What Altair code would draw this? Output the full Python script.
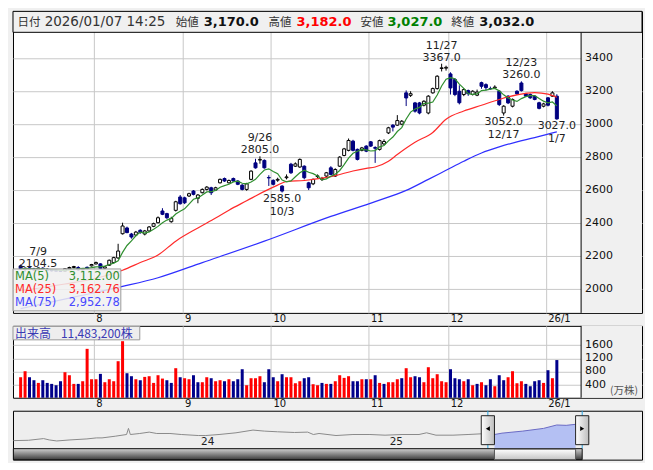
import altair as alt
import pandas as pd

# ---------------- data ----------------
opens = [
    2140, 2118, 2128, 2122, 2116, 2126, 2120, 2114, 2112, 2110,
    2108, 2122, 2130, 2130, 2116, 2131, 2140, 2152, 2152, 2126,
    2144, 2160, 2188, 2335, 2370, 2333, 2327, 2356, 2333, 2352,
    2380, 2402, 2473, 2457, 2408, 2477, 2558, 2553, 2564, 2594,
    2550, 2584, 2604, 2614, 2600, 2644, 2670, 2644, 2670, 2655,
    2630, 2604, 2665, 2765, 2782, 2780, 2676, 2659, 2660, 2624,
    2675, 2757, 2745, 2740, 2745, 2644, 2638, 2682, 2665, 2685,
    2735, 2685, 2745, 2810, 2841, 2897, 2847, 2841, 2867, 2893,
    2858, 2847, 2880, 2947, 2994, 2994, 3000, 3190, 3175, 3129,
    3129, 3115, 3068, 3190, 3216, 3338, 3340, 3305, 3271, 3200,
    3180, 3204, 3180, 3176, 3252, 3240, 3216, 3220, 3200, 3068,
    3170, 3109, 3200, 3250, 3184, 3180, 3170, 3130, 3109, 3160,
    3170, 3170]
highs = [
    2148, 2130, 2136, 2128, 2130, 2132, 2126, 2120, 2118, 2114,
    2125, 2135, 2140, 2138, 2126, 2136, 2152, 2166, 2156, 2140,
    2178, 2195, 2274, 2402, 2378, 2340, 2352, 2362, 2358, 2382,
    2402, 2440, 2490, 2462, 2438, 2535, 2570, 2560, 2584, 2600,
    2576, 2610, 2624, 2620, 2620, 2670, 2676, 2664, 2676, 2660,
    2636, 2644, 2720, 2790, 2805, 2786, 2690, 2665, 2675, 2630,
    2695, 2765, 2768, 2792, 2750, 2650, 2670, 2695, 2680, 2710,
    2745, 2732, 2806, 2856, 2913, 2905, 2852, 2862, 2872, 2898,
    2866, 2906, 2908, 2984, 3000, 3055, 3025, 3205, 3200, 3135,
    3135, 3145, 3176, 3222, 3297, 3367, 3355, 3315, 3280, 3236,
    3218, 3210, 3206, 3210, 3258, 3248, 3228, 3236, 3206, 3115,
    3176, 3156, 3206, 3260, 3190, 3186, 3176, 3136, 3130, 3165,
    3200, 3182]
lows = [
    2118, 2104.5, 2115, 2110, 2112, 2116, 2110, 2106, 2106, 2105,
    2106, 2118, 2125, 2110, 2112, 2118, 2136, 2148, 2120, 2122,
    2140, 2155, 2182, 2330, 2338, 2305, 2320, 2335, 2325, 2345,
    2375, 2398, 2448, 2425, 2402, 2470, 2512, 2515, 2558, 2568,
    2520, 2580, 2598, 2570, 2595, 2640, 2650, 2640, 2650, 2630,
    2598, 2596, 2660, 2730, 2760, 2730, 2625, 2628, 2650, 2585,
    2665, 2698, 2740, 2735, 2665, 2600, 2630, 2672, 2655, 2680,
    2690, 2680, 2740, 2805, 2835, 2835, 2780, 2835, 2830, 2862,
    2765, 2840, 2872, 2940, 2956, 2990, 2994, 3110, 3165, 3070,
    3060, 3108, 3060, 3185, 3210, 3320, 3325, 3180, 3170, 3120,
    3170, 3172, 3174, 3170, 3215, 3205, 3208, 3214, 3110, 3052,
    3122, 3102, 3178, 3198, 3165, 3154, 3145, 3090, 3102, 3108,
    3165, 3027]
closes = [
    2122, 2126, 2120, 2115, 2127, 2120, 2114, 2110, 2108, 2107,
    2122, 2130, 2136, 2115, 2120, 2125, 2148, 2160, 2125, 2134,
    2174, 2190, 2230, 2382, 2342, 2315, 2345, 2342, 2352, 2376,
    2396, 2432, 2453, 2432, 2428, 2529, 2517, 2523, 2578, 2574,
    2570, 2604, 2618, 2584, 2614, 2665, 2655, 2658, 2655, 2635,
    2604, 2638, 2715, 2735, 2786, 2735, 2674, 2635, 2665, 2594,
    2680, 2705, 2759, 2786, 2675, 2614, 2665, 2686, 2670, 2705,
    2695, 2725, 2800, 2850, 2901, 2841, 2786, 2856, 2836, 2867,
    2854, 2900, 2895, 2978, 2982, 3022, 3018, 3159, 3185, 3079,
    3068, 3139, 3170, 3216, 3291, 3342, 3345, 3220, 3180, 3130,
    3210, 3185, 3200, 3195, 3230, 3222, 3215, 3225, 3119, 3109,
    3129, 3150, 3184, 3204, 3170, 3160, 3150, 3096, 3123, 3115,
    3190, 3032]
volumes = [  # 万株
    625, 808, 625, 534, 452, 534, 452, 422, 381, 503,
    778, 686, 422, 422, 503, 1490, 564, 564, 727, 473,
    564, 503, 1113, 1723, 747, 656, 564, 534, 635, 656,
    452, 686, 584, 534, 452, 900, 625, 595, 564, 686,
    473, 473, 625, 595, 503, 534, 503, 564, 503, 564,
    869, 381, 595, 595, 656, 473, 869, 625, 503, 717,
    625, 625, 442, 503, 595, 625, 412, 381, 452, 422,
    422, 503, 686, 605, 656, 503, 503, 564, 564, 564,
    686, 452, 422, 473, 473, 564, 595, 900, 625, 656,
    625, 473, 930, 595, 717, 503, 473, 869, 595, 564,
    503, 564, 381, 422, 473, 381, 564, 351, 686, 534,
    625, 808, 442, 503, 422, 351, 503, 534, 452, 839,
    595, 1148]

month_labels = ["8", "9", "10", "11", "12", "26/1"]
month_first_day = [17, 37, 57, 79, 97, 119]

price_ticks = [2000, 2200, 2400, 2600, 2800, 3000, 3200, 3400]
volume_ticks = [400, 800, 1200, 1600]

ma25_day = [0, 10, 17, 23, 27, 31, 35, 40, 44, 47, 51, 55, 58, 60, 64, 68, 71, 75,
            78, 80, 83, 85, 89, 93, 96, 100, 104, 108, 112, 116, 119, 121]
ma25_val = [1990, 2030, 2065, 2113, 2160, 2206, 2290, 2370, 2430, 2478, 2535, 2592,
            2630, 2652, 2658, 2672, 2688, 2716, 2732, 2740, 2775, 2816, 2890, 2950,
            3030, 3080, 3115, 3150, 3178, 3192, 3182, 3163]
ma75_day = [0, 12, 23, 31, 41, 55, 70, 80, 87, 92, 96, 100, 104, 108, 112, 116, 119, 121]
ma75_val = [1880, 1950, 2015, 2068, 2160, 2290, 2440, 2530, 2598, 2665, 2720, 2775,
            2825, 2862, 2893, 2918, 2940, 2953]

high_marks_day = [54, 95, 113]
high_marks_price = [2805.0, 3367.0, 3260.0]
high_marks_date = ["9/26", "11/27", "12/23"]
low_marks_day = [59, 109, 121]
low_marks_price = [2585.0, 3052.0, 3027.0]
low_marks_date = ["10/3", "12/17", "1/7"]
first_mark_day = [1]
first_mark_price = [2104.5]
first_mark_date = ["7/9"]

legend_names = ["MA(5)", "MA(25)", "MA(75)"]
legend_values = ["3,112.00", "3,162.76", "2,952.78"]

header_labels = ["日付", "始値", "高値", "安値", "終値"]
header_datetime = "2026/01/07 14:25"
header_values = ["3,170.0", "3,182.0", "3,027.0", "3,032.0"]
volume_title = "出来高"
volume_last = "11,483,200株"
volume_unit = "(万株)"

nav_time = [22.97, 23.05, 23.13, 23.16, 23.20, 23.27, 23.36, 23.41, 23.44, 23.51,
            23.57, 23.58, 23.59, 23.64, 23.69, 23.73, 23.80, 23.86, 23.95, 23.99,
            24.06, 24.15, 24.24, 24.30, 24.37, 24.46, 24.53, 24.56, 24.59, 24.68,
            24.77, 24.86, 24.94, 25.03, 25.12, 25.16, 25.21, 25.30, 25.38, 25.45, 25.52]
nav_price = [1573, 1603, 1755, 1634, 1542, 1634, 1725, 1816, 1816, 1968,
             2120, 2667, 2120, 2211, 2333, 2211, 2211, 2120, 2029, 2029,
             2120, 2272, 2515, 2424, 2363, 2302, 2333, 2120, 2211, 2029,
             2120, 2120, 2059, 2120, 2120, 2272, 2059, 2059, 2120, 2181, 2120]
nav_sel_time = [25.52, 25.56, 25.67, 25.78, 25.85, 25.90, 25.95]
nav_sel_price = [2120, 2242, 2424, 2667, 2971, 2941, 3032]
nav_years = [24, 25]

# ---------------- styling ----------------
NAVY = "#000080"
VNAVY = "#00008b"
GRID = "#c8c8c8"
GREEN = "#2f8f2f"
RED = "#ff2a2a"
BLUE = "#2f2fff"
BG = "#f0f0f0"
W = 630
HH = 21          # header strip on top of the price panel
PH = 302         # header + price plot
VH = 72
NH = 49
NUMFONT = "DejaVu Sans"
JPFONT = "Noto Sans CJK JP"

df = pd.DataFrame({"j": list(range(len(closes))), "open": opens, "high": highs,
                   "low": lows, "close": closes, "vol": volumes})
df["prev"] = df["close"].shift(1).fillna(df["close"].iloc[0])

xs = alt.Scale(domain=[-0.6, 139.09], nice=False, zero=False)
ys = alt.Scale(domain=[1854.6, 3684.8], nice=False, zero=False)
vsc = alt.Scale(domain=[0, 2190], nice=False, zero=True)

grid_vals = [d - 0.5 for d in month_first_day]
conds = [f"datum.value < {g + 1} ? '{lab}'" for g, lab in zip(grid_vals[:-1], month_labels[:-1])]
label_expr = " : ".join(conds) + f" : '{month_labels[-1]}'"


def xaxis():
    return alt.Axis(values=grid_vals, labelExpr=label_expr, grid=True, gridColor=GRID,
                    gridWidth=1, ticks=False, tickSize=0, domain=False, labelAlign="left",
                    labelBaseline="top", labelPadding=1, labelOffset=2, labelFontSize=10,
                    labelFont=NUMFONT, labelColor="#111111", title=None,
                    labelFlush=False, labelOverlap=False, labelBound=False)


yax = alt.Axis(values=price_ticks, grid=True, gridColor=GRID, labels=False, ticks=False,
               tickSize=0, domain=False, title=None, minExtent=0, maxExtent=0)
vax = alt.Axis(values=volume_ticks, grid=True, gridColor=GRID, labels=False, ticks=False,
               tickSize=0, domain=False, title=None, minExtent=0, maxExtent=0)

X = alt.X("j:Q", scale=xs, axis=xaxis())


def PY(field):
    return alt.Y(field, type="quantitative", scale=ys, axis=yax)


one = pd.DataFrame({"a": [0]})
up = "datum.close >= datum.open"

# ---------------- price panel ----------------
wicks = alt.Chart(df).mark_rule(strokeWidth=1).encode(
    x=X, y=PY("low"), y2="high",
    color=alt.condition(up, alt.value("#000000"), alt.value(NAVY)))
bodies = alt.Chart(df).mark_bar(size=3, strokeWidth=1).encode(
    x=X, y=PY("open"), y2="close",
    fill=alt.condition(up, alt.value("#ffffff"), alt.value(NAVY)),
    stroke=alt.condition(up, alt.value("#000000"), alt.value(NAVY)))
ma5 = alt.Chart(df).transform_window(
    ma5="mean(close)", frame=[-4, 0], sort=[alt.SortField("j")]
).mark_line(color=GREEN, strokeWidth=1.2).encode(x=X, y=PY("ma5"))
ma25 = alt.Chart(pd.DataFrame({"j": ma25_day, "v": ma25_val})).mark_line(
    color=RED, strokeWidth=1.2, interpolate="monotone").encode(x=X, y=PY("v"))
ma75 = alt.Chart(pd.DataFrame({"j": ma75_day, "v": ma75_val})).mark_line(
    color=BLUE, strokeWidth=1.2, interpolate="monotone").encode(x=X, y=PY("v"))


def marks(days, prices, dates, dy_p, dy_d, dx=0):
    d = pd.DataFrame({"j": days, "p": prices, "d": dates})
    base = alt.Chart(d)
    kw = dict(fontSize=11, font=NUMFONT, color="#222222", baseline="alphabetic", dx=dx)
    t1 = base.mark_text(dy=dy_p, **kw).encode(x=X, y=PY("p"), text=alt.Text("p:Q", format=".1f"))
    t2 = base.mark_text(dy=dy_d, **kw).encode(x=X, y=PY("p"), text="d:N")
    return [t1, t2]


ann = (marks(high_marks_day, high_marks_price, high_marks_date, -3, -15)
       + marks(low_marks_day, low_marks_price, low_marks_date, 9.5, 22)
       + marks(first_mark_day, first_mark_price, first_mark_date, -5, -17, dx=13))

leg_box = alt.Chart(one).mark_rect(fill=BG, fillOpacity=0.85, stroke="#9a9a9a", strokeWidth=1).encode(
    x=alt.value(0), x2=alt.value(108), y=alt.value(HH + 237), y2=alt.value(HH + 279))
leg_cols = [GREEN, RED, "#4848ff"]
leg_layers = []
for k, (nm, vl, col) in enumerate(zip(legend_names, legend_values, leg_cols)):
    yy = HH + 248 + 13 * k
    leg_layers.append(alt.Chart(pd.DataFrame({"s": [nm]})).mark_text(
        align="left", baseline="alphabetic", fontSize=11.5, font=NUMFONT, color=col).encode(
        x=alt.value(2), y=alt.value(yy), text="s:N"))
    leg_layers.append(alt.Chart(pd.DataFrame({"s": [vl]})).mark_text(
        align="right", baseline="alphabetic", fontSize=11.5, font=NUMFONT, color=col).encode(
        x=alt.value(107), y=alt.value(yy), text="s:N"))

strip = alt.Chart(one).mark_rect(color=BG).encode(
    x=alt.value(569), x2=alt.value(W), y=alt.value(HH), y2=alt.value(PH))
sep = alt.Chart(one).mark_rule(color="#000000").encode(
    x=alt.value(569), y=alt.value(HH), y2=alt.value(PH))
plabels = alt.Chart(pd.DataFrame({"v": price_ticks})).mark_text(
    align="left", baseline="middle", fontSize=11, font=NUMFONT, color="#111111").encode(
    x=alt.value(573), y=PY("v"), text=alt.Text("v:Q", format="d"))

# header strip (date and OHLC of the last bar)
hdr_box = alt.Chart(one).mark_rect(fill=BG, stroke="#000000", strokeWidth=1).encode(
    x=alt.value(0), x2=alt.value(W), y=alt.value(0), y2=alt.value(HH))
hdr_items = [
    (header_labels[0], 4.6, JPFONT, 11.5, "normal", "#333333"),
    (header_datetime, 31.7, NUMFONT, 13.5, "normal", "#333333"),
    (header_labels[1], 163, JPFONT, 11.5, "normal", "#333333"),
    (header_values[0], 191, NUMFONT, 13, "bold", "#111111"),
    (header_labels[2], 256, JPFONT, 11.5, "normal", "#333333"),
    (header_values[1], 284, NUMFONT, 13, "bold", "#ff0000"),
    (header_labels[3], 348, JPFONT, 11.5, "normal", "#333333"),
    (header_values[2], 375, NUMFONT, 13, "bold", "#008000"),
    (header_labels[4], 439, JPFONT, 11.5, "normal", "#333333"),
    (header_values[3], 467, NUMFONT, 13, "bold", "#111111"),
]
hdr_layers = []
for s, xx, fnt, fs, fw, col in hdr_items:
    hdr_layers.append(alt.Chart(pd.DataFrame({"s": [s]})).mark_text(
        align="left", baseline="alphabetic", font=fnt, fontSize=fs, fontWeight=fw, color=col).encode(
        x=alt.value(xx), y=alt.value(14.5), text="s:N"))

price = alt.layer(wicks, bodies, ma75, ma25, ma5, *ann, leg_box, *leg_layers,
                  strip, sep, plabels, hdr_box, *hdr_layers).properties(
    width=W, height=PH, view=alt.ViewBackground(fill="#ffffff", stroke="#000000", strokeWidth=1))

# ---------------- volume panel ----------------
vbars = alt.Chart(df).mark_bar(size=3).encode(
    x=alt.X("j:Q", scale=xs, axis=xaxis()),
    y=alt.Y("vol:Q", scale=vsc, axis=vax),
    color=alt.condition("datum.close >= datum.prev", alt.value("#ff0000"), alt.value(VNAVY)))
vbox = alt.Chart(one).mark_rect(fill="#eeeeee", stroke="#9a9a9a", strokeWidth=1).encode(
    x=alt.value(0), x2=alt.value(127), y=alt.value(0.5), y2=alt.value(14))
vt1 = alt.Chart(pd.DataFrame({"s": [volume_title]})).mark_text(
    align="left", baseline="alphabetic", fontSize=12, font=JPFONT, color="#3a3ab4").encode(
    x=alt.value(2), y=alt.value(12), text="s:N")
vt2 = alt.Chart(pd.DataFrame({"s": [volume_last]})).mark_text(
    align="left", baseline="alphabetic", fontSize=12, font=JPFONT, color="#3a3ab4").encode(
    x=alt.value(48), y=alt.value(12), text="s:N")
vstrip = alt.Chart(one).mark_rect(color=BG).encode(
    x=alt.value(569), x2=alt.value(W), y=alt.value(0), y2=alt.value(VH))
vsep = alt.Chart(one).mark_rule(color="#000000").encode(
    x=alt.value(569), y=alt.value(0), y2=alt.value(VH))
vlabels = alt.Chart(pd.DataFrame({"v": volume_ticks})).mark_text(
    align="left", baseline="middle", fontSize=11, font=NUMFONT, color="#111111").encode(
    x=alt.value(573), y=alt.Y("v:Q", scale=vsc, axis=vax), text=alt.Text("v:Q", format="d"))
vunit = alt.Chart(pd.DataFrame({"s": [volume_unit]})).mark_text(
    align="left", baseline="alphabetic", fontSize=10.5, font=JPFONT, color="#555555").encode(
    x=alt.value(598), y=alt.value(68), text="s:N")

volume = alt.layer(vbars, vbox, vt1, vt2, vstrip, vsep, vlabels, vunit).properties(
    width=W, height=VH, view=alt.ViewBackground(fill="#ffffff", stroke="#000000", strokeWidth=1))

# ---------------- navigator ----------------
nxs = alt.Scale(domain=[22.968, 26.302], nice=False, zero=False)
nys = alt.Scale(domain=[-130, 4248], nice=False, zero=False)
NX = alt.X("t:Q", scale=nxs, axis=None)
NY = alt.Y("p:Q", scale=nys, axis=None)
nav_df = pd.DataFrame({"t": nav_time, "p": nav_price})
sel_df = pd.DataFrame({"t": nav_sel_time, "p": nav_sel_price})
t0, t1 = nav_sel_time[0], nav_sel_time[-1]
hw = 0.07

nav_line = alt.Chart(nav_df).mark_line(color="#8a8a8a", strokeWidth=1).encode(x=NX, y=NY)
sel_area = alt.Chart(sel_df).mark_area(color="#b4c0f3", opacity=1).encode(x=NX, y=NY, y2=alt.value(38))
sel_line = alt.Chart(sel_df).mark_line(color="#6a6ac4", strokeWidth=1).encode(x=NX, y=NY)
years = alt.Chart(pd.DataFrame({"t": nav_years, "s": [str(y) for y in nav_years]})).mark_text(
    fontSize=10.5, font=NUMFONT, color="#222222", baseline="alphabetic").encode(
    x=NX, y=alt.value(34), text="s:N")
cyan = alt.Chart(pd.DataFrame({"t": [t0 - hw / 2, t1 + hw / 2]})).mark_rule(
    color="#2aa4e0", strokeWidth=1).encode(x=NX, y=alt.value(0), y2=alt.value(38))
light = alt.LinearGradient(gradient="linear", x1=0, y1=0, x2=0, y2=1,
                           stops=[alt.GradientStop(color="#ffffff", offset=0),
                                  alt.GradientStop(color="#c4c4c4", offset=1)])
hgrad = alt.LinearGradient(gradient="linear", x1=0, y1=0, x2=1, y2=0,
                           stops=[alt.GradientStop(color="#ffffff", offset=0),
                                  alt.GradientStop(color="#bdbdbd", offset=1)])
dark = alt.LinearGradient(gradient="linear", x1=0, y1=0, x2=0, y2=1,
                          stops=[alt.GradientStop(color="#d0d0d0", offset=0),
                                 alt.GradientStop(color="#3c3c3c", offset=1)])
handles = alt.Chart(pd.DataFrame({"t": [t0 - hw, t1], "t2": [t0, t1 + hw]})).mark_rect(
    fill=hgrad, stroke="#222222", strokeWidth=1).encode(
    x=NX, x2="t2:Q", y=alt.value(5), y2=alt.value(34))
tri_l = alt.Chart(pd.DataFrame({"t": [t0 - hw / 2]})).mark_point(
    shape="triangle-left", filled=True, color="#000000", size=22, opacity=1).encode(
    x=NX, y=alt.value(18))
tri_r = alt.Chart(pd.DataFrame({"t": [t1 + hw / 2]})).mark_point(
    shape="triangle-right", filled=True, color="#000000", size=22, opacity=1).encode(
    x=NX, y=alt.value(18))
track = alt.Chart(pd.DataFrame({"t": [nav_time[0]], "t2": [t1 + hw / 2]})).mark_rect(
    fill=dark, stroke="#111111", strokeWidth=1).encode(
    x=NX, x2="t2:Q", y=alt.value(38), y2=alt.value(NH))
thumb = alt.Chart(pd.DataFrame({"t": [t0], "t2": [t1]})).mark_rect(
    fill=light, stroke="#555555", strokeWidth=1).encode(
    x=NX, x2="t2:Q", y=alt.value(38.5), y2=alt.value(NH))

nav = alt.layer(nav_line, sel_area, sel_line, years, cyan, handles, tri_l, tri_r,
                track, thumb).properties(
    width=W, height=NH, view=alt.ViewBackground(fill="#eeeeee", stroke="#000000", strokeWidth=1))

chart = alt.vconcat(price, volume, nav, spacing=13, bounds="flush").configure(
    background=BG, padding={"left": 2, "top": 2, "right": 2, "bottom": 2})

chart.save("out.html", embed_options={"renderer": "svg", "actions": False})
